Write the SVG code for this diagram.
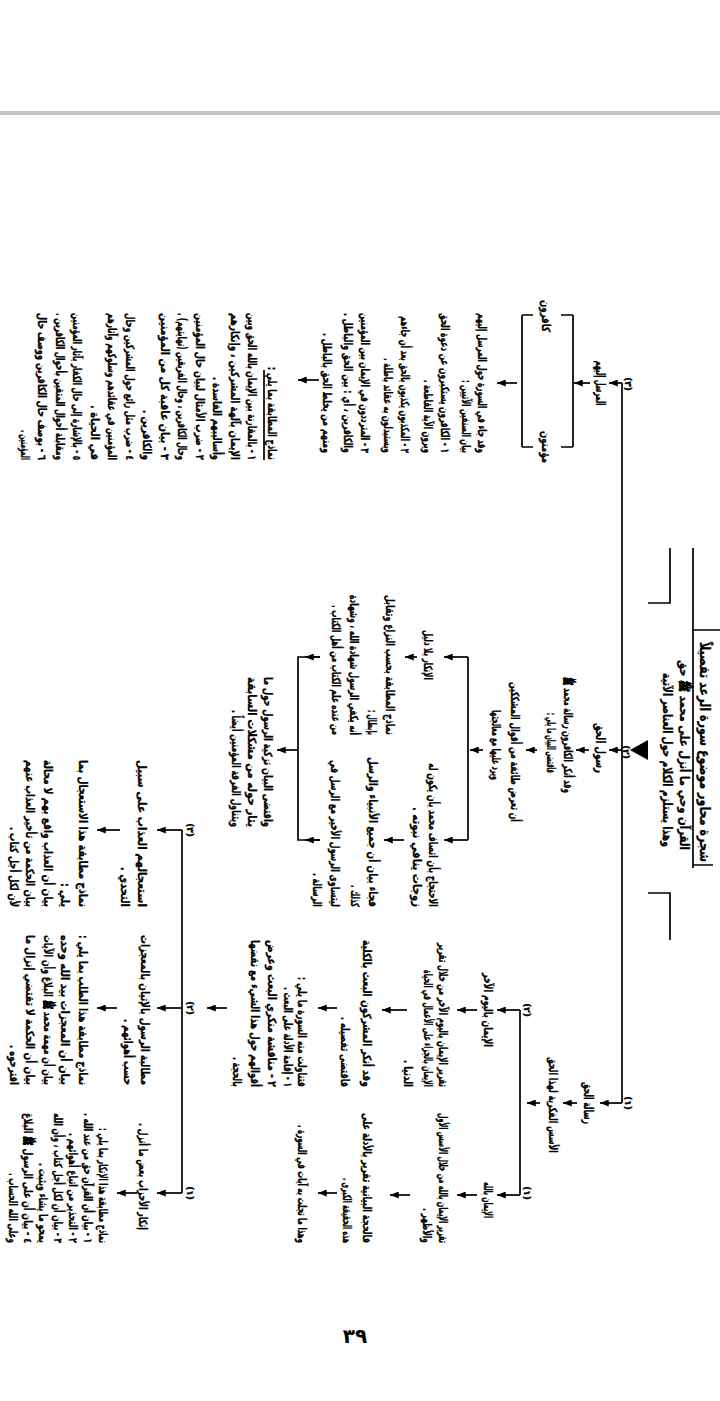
<svg xmlns="http://www.w3.org/2000/svg" width="720" height="1401" viewBox="0 0 720 1401">
<defs>
<style>
.t{font-family:"DejaVu Sans","Noto Sans",sans-serif;font-weight:bold;font-size:11.5px;fill:#000;stroke:#000;stroke-width:0.3;direction:rtl}
.r{text-anchor:start}
.c{text-anchor:middle}
.m{font-size:9px}
.h1{font-size:14px}
.h2{font-size:12.5px}
.ln{stroke:#000;stroke-width:1.7;fill:none}
.a{stroke:#000;stroke-width:1.7;fill:none;marker-end:url(#ah)}
</style>
<marker id="ah" viewBox="0 0 10 8" refX="10" refY="4" markerWidth="9" markerHeight="7" orient="auto" markerUnits="userSpaceOnUse"><path d="M0,0L10,4L0,8z" fill="#000"/></marker>
</defs>
<rect width="720" height="1401" fill="#fff"/>
<rect x="0" y="111" width="720" height="4" fill="#c4c4c4"/>
<g transform="matrix(0 1 -1 0 720 0)">
<g id="title">
<path class="ln" d="M548,27H868M630,0V27M865,7V27M548,50H603V72M893,72V50H940"/>
<polygon points="740,72 760,72 750,90" fill="#000"/>
<text class="t c h1" x="752" y="20" textLength="220" lengthAdjust="spacingAndGlyphs">شجرة محاور موضوع سورة الرعد تفصيلاً</text>
<text class="t c h2" x="755" y="40" textLength="190" lengthAdjust="spacingAndGlyphs">القرآن وحي ما أنزل على محمد ﷺ حق</text>
<text class="t c h2" x="760" y="57" textLength="174" lengthAdjust="spacingAndGlyphs">وهذا يستلزم الكلام حول العناصر الآتية</text>
</g>
<g id="connectors">
<path class="ln" d="M383,98H1103"/>
<path class="a" d="M383,98V111"/>
<path class="a" d="M750,98V111"/>
<path class="a" d="M1103,98V120"/>
<path class="a" d="M383,130V146"/>
<path class="ln" d="M315,147H447M315,198H447M315,147V159M315,187V198M447,147V159M447,187V198"/>
<path class="a" d="M383,203V223"/>
<path class="a" d="M380,401V422"/>
<path class="ln" d="M370,456H460"/>
<path class="a" d="M750,131V144"/>
<path class="a" d="M750,183V194"/>
<path class="a" d="M750,237V250"/>
<path class="ln" d="M657,252H840"/>
<path class="a" d="M657,252V276"/>
<path class="a" d="M840,252V276"/>
<path class="a" d="M657,303V315"/>
<path class="a" d="M840,316V336"/>
<path class="ln" d="M657,400V422H840V400"/>
<path class="a" d="M657,400V415"/>
<path class="a" d="M840,400V415"/>
<path class="a" d="M750,422V443"/>
<path class="a" d="M1103,143V157"/>
<path class="a" d="M1103,180V193"/>
<path class="ln" d="M1010,200H1195"/>
<path class="a" d="M1010,200V223"/>
<path class="a" d="M1195,200V223"/>
<path class="a" d="M1010,243V263"/>
<path class="a" d="M1195,243V263"/>
<path class="a" d="M1010,313V338"/>
<path class="a" d="M1195,310V330"/>
<path class="a" d="M1008,383V402"/>
<path class="a" d="M1193,383V402"/>
<path class="a" d="M1008,493V513"/>
<path class="ln" d="M830,538H1193"/>
<path class="a" d="M830,538V563"/>
<path class="a" d="M1008,538V563"/>
<path class="a" d="M1193,538V563"/>
<path class="a" d="M830,600V623"/>
<path class="a" d="M1008,603V623"/>
<path class="a" d="M1193,583V603"/>
</g>
<g id="markers">
<text class="t c m" x="384" y="95">(٣)</text>
<text class="t c m" x="752" y="97">(٢)</text>
<text class="t c m" x="1103" y="95">(١)</text>
<text class="t c m" x="1010" y="196">(٢)</text>
<text class="t c m" x="1193" y="196">(١)</text>
<text class="t c m" x="830" y="533">(٣)</text>
<text class="t c m" x="1008" y="533">(٢)</text>
<text class="t c m" x="1193" y="533">(١)</text>
</g>
<g id="n3">
<text class="t c h2" x="383" y="124" textLength="45" lengthAdjust="spacingAndGlyphs">المرسل إليهم</text>
</g>
<g id="n3-groups">
<text class="t c" x="316" y="178" textLength="32" lengthAdjust="spacingAndGlyphs">كافرون</text>
<text class="t c" x="447" y="178" textLength="32" lengthAdjust="spacingAndGlyphs">مؤمنون</text>
</g>
<g id="n3-a">
<text class="t r" x="453" y="242" textLength="140" lengthAdjust="spacingAndGlyphs">وقد جاء في السورة حول المرسل إليهم</text>
<text class="t r" x="453" y="258" textLength="73" lengthAdjust="spacingAndGlyphs">بيان الصنفين الآتيين :</text>
<text class="t r" x="453" y="279" textLength="140" lengthAdjust="spacingAndGlyphs">١ - الكافرون يستكبرون عن دعوة الحق</text>
<text class="t r" x="453" y="296" textLength="73" lengthAdjust="spacingAndGlyphs">ويرون الآية القاطعة .</text>
<text class="t r" x="453" y="319" textLength="137" lengthAdjust="spacingAndGlyphs">٢ - المكذبون يكذبون بالحق بعد أن جاءهم</text>
<text class="t r" x="453" y="336" textLength="95" lengthAdjust="spacingAndGlyphs">ويستبدلون به عقائد باطلة .</text>
<text class="t r" x="453" y="359" textLength="140" lengthAdjust="spacingAndGlyphs">٣ - المترددون في الإيمان بين المؤمنين</text>
<text class="t r" x="453" y="376" textLength="140" lengthAdjust="spacingAndGlyphs">والكافرين ، أي : بين الحق والباطل .</text>
<text class="t r" x="453" y="397" textLength="120" lengthAdjust="spacingAndGlyphs">ومنهم من يخلط الحق بالباطل .</text>
</g>
<g id="n3-b">
<text class="t r" x="460" y="452" textLength="93" lengthAdjust="spacingAndGlyphs">نماذج المطابقة بما يلي :</text>
<text class="t r" x="460" y="472" textLength="147" lengthAdjust="spacingAndGlyphs">١ - بالمقارنة بين الإيمان بالله الحق وبين</text>
<text class="t r" x="460" y="489" textLength="147" lengthAdjust="spacingAndGlyphs">الإيمان بآلهة المشركين ، وإنكارهم</text>
<text class="t r" x="460" y="507" textLength="83" lengthAdjust="spacingAndGlyphs">وأساليبهم الفاسدة .</text>
<text class="t r" x="460" y="524" textLength="147" lengthAdjust="spacingAndGlyphs">٢ - ضرب الأمثال لبيان حال المؤمنين</text>
<text class="t r" x="460" y="542" textLength="147" lengthAdjust="spacingAndGlyphs">وحال الكافرين ، وحال الفريقين (نهايتهم) .</text>
<text class="t r" x="460" y="559" textLength="147" lengthAdjust="spacingAndGlyphs">٣ - بيان عاقبة كل من المؤمنين</text>
<text class="t r" x="460" y="577" textLength="50" lengthAdjust="spacingAndGlyphs">والكافرين .</text>
<text class="t r" x="460" y="594" textLength="147" lengthAdjust="spacingAndGlyphs">٤ - ضرب مثل رائع حول المشركين وحال</text>
<text class="t r" x="460" y="612" textLength="147" lengthAdjust="spacingAndGlyphs">المؤمنين في عقائدهم وسلوكهم وآثارهم</text>
<text class="t r" x="460" y="629" textLength="55" lengthAdjust="spacingAndGlyphs">في الحياة .</text>
<text class="t r" x="460" y="647" textLength="147" lengthAdjust="spacingAndGlyphs">٥ - بالإشارة إلى حال الكفار بآثار المؤمنين</text>
<text class="t r" x="460" y="664" textLength="147" lengthAdjust="spacingAndGlyphs">ومقابلة أحوال المتقين بأحوال الكافرين .</text>
<text class="t r" x="460" y="682" textLength="147" lengthAdjust="spacingAndGlyphs">٦ - بوصف حال الكافرين ووصف حال</text>
<text class="t r" x="460" y="699" textLength="30" lengthAdjust="spacingAndGlyphs">المؤمنين .</text>
</g>
<g id="n2">
<text class="t c h2" x="748" y="124" textLength="50" lengthAdjust="spacingAndGlyphs">رسول الحق</text>
</g>
<g id="n2-a">
<text class="t c" x="735" y="156" textLength="116" lengthAdjust="spacingAndGlyphs">وقد أنكر الكافرون رسالة محمد ﷺ</text>
<text class="t c" x="743" y="173" textLength="60" lengthAdjust="spacingAndGlyphs">فاقتضى البيان ما يلي :</text>
</g>
<g id="n2-b">
<text class="t c" x="752" y="209" textLength="140" lengthAdjust="spacingAndGlyphs">أن تعرض طائفة من أقوال المشككين</text>
<text class="t c" x="745" y="228" textLength="70" lengthAdjust="spacingAndGlyphs">ويرد عليها مع معالجتها</text>
</g>
<g id="n2-c">
<text class="t c" x="655" y="296" textLength="50" lengthAdjust="spacingAndGlyphs">الإنكار بلا دليل</text>
</g>
<g id="n2-c1">
<text class="t r" x="735" y="334" textLength="140" lengthAdjust="spacingAndGlyphs">نماذج المطابقة بحسب النزاع وتقابل</text>
<text class="t r" x="735" y="352" textLength="25" lengthAdjust="spacingAndGlyphs">بإبطال :</text>
<text class="t r" x="735" y="370" textLength="140" lengthAdjust="spacingAndGlyphs">أنه يكفي الرسول شهادة الله ، وشهادة</text>
<text class="t r" x="735" y="388" textLength="130" lengthAdjust="spacingAndGlyphs">من عنده علم الكتاب من أهل الكتاب .</text>
</g>
<g id="n2-d">
<text class="t r" x="907" y="291" textLength="144" lengthAdjust="spacingAndGlyphs">الاحتجاج بأن اتصاف محمد بأن يكون له</text>
<text class="t r" x="907" y="307" textLength="100" lengthAdjust="spacingAndGlyphs">زوجات ينافي نبوته .</text>
</g>
<g id="n2-d1">
<text class="t r" x="907" y="351" textLength="150" lengthAdjust="spacingAndGlyphs">فجاء بيان أن جميع الأنبياء والرسل</text>
<text class="t r" x="907" y="369" textLength="22" lengthAdjust="spacingAndGlyphs">كذلك .</text>
<text class="t r" x="907" y="389" textLength="147" lengthAdjust="spacingAndGlyphs">ليتساوى الرسول الأخير مع الرسل في</text>
<text class="t r" x="907" y="407" textLength="34" lengthAdjust="spacingAndGlyphs">الرسالة .</text>
</g>
<g id="n2-e">
<text class="t r" x="827" y="456" textLength="150" lengthAdjust="spacingAndGlyphs">واقتضى البيان تزكية الرسول حول ما</text>
<text class="t r" x="827" y="472" textLength="150" lengthAdjust="spacingAndGlyphs">يثار حوله من مشكلات السابقة</text>
<text class="t r" x="827" y="488" textLength="117" lengthAdjust="spacingAndGlyphs">ويتناول الفرقة المؤمنين أيضاً .</text>
</g>
<g id="n1">
<text class="t c h2" x="1103" y="136" textLength="42" lengthAdjust="spacingAndGlyphs">رسالة الحق</text>
</g>
<g id="n1-a">
<text class="t c" x="1105" y="171" textLength="96" lengthAdjust="spacingAndGlyphs">الأسس الفكرية لهذا الحق</text>
</g>
<g id="n1-2">
<text class="t c" x="1010" y="236" textLength="74" lengthAdjust="spacingAndGlyphs">الإيمان باليوم الآخر</text>
</g>
<g id="n1-2a">
<text class="t r" x="1087" y="281" textLength="144" lengthAdjust="spacingAndGlyphs">تقرير الإيمان باليوم الآخر من خلال تقرير</text>
<text class="t r" x="1087" y="296" textLength="117" lengthAdjust="spacingAndGlyphs">الإيمان بالجزاء على الأعمال في الحياة</text>
<text class="t r" x="1087" y="316" textLength="27" lengthAdjust="spacingAndGlyphs">الدنيا .</text>
</g>
<g id="n1-2b">
<text class="t r" x="1087" y="357" textLength="147" lengthAdjust="spacingAndGlyphs">وقد أنكر المشركون البعث بالكلية</text>
<text class="t r" x="1087" y="379" textLength="70" lengthAdjust="spacingAndGlyphs">فاقتضى تفصيله .</text>
</g>
<g id="n1-2c">
<text class="t r" x="1087" y="422" textLength="110" lengthAdjust="spacingAndGlyphs">فتناولت منه السورة ما يلي :</text>
<text class="t r" x="1087" y="436" textLength="100" lengthAdjust="spacingAndGlyphs">١ - إقامة الأدلة على البعث .</text>
<text class="t r" x="1087" y="452" textLength="147" lengthAdjust="spacingAndGlyphs">٢ - مناقشة منكري البعث وعرض</text>
<text class="t r" x="1087" y="469" textLength="147" lengthAdjust="spacingAndGlyphs">أقوالهم حول هذا الشيء مع نقضها</text>
<text class="t r" x="1087" y="487" textLength="30" lengthAdjust="spacingAndGlyphs">بالحجة .</text>
</g>
<g id="n1-1">
<text class="t c" x="1200" y="236" textLength="36" lengthAdjust="spacingAndGlyphs">الإيمان بالله</text>
</g>
<g id="n1-1a">
<text class="t r" x="1243" y="281" textLength="130" lengthAdjust="spacingAndGlyphs">تقرير الإيمان بالله من خلال الأسس الأول</text>
<text class="t r" x="1243" y="297" textLength="35" lengthAdjust="spacingAndGlyphs">والأظهر .</text>
</g>
<g id="n1-1b">
<text class="t r" x="1243" y="357" textLength="130" lengthAdjust="spacingAndGlyphs">فالحجة البيانية تقرير بالأدلة على</text>
<text class="t r" x="1243" y="377" textLength="65" lengthAdjust="spacingAndGlyphs">هذه الحقيقة الكبرى .</text>
</g>
<g id="n1-1c">
<text class="t r" x="1243" y="422" textLength="118" lengthAdjust="spacingAndGlyphs">وهذا ما تجلت به آيات في السورة .</text>
</g>
<g id="g3">
<text class="t r" x="907" y="582" textLength="147" lengthAdjust="spacingAndGlyphs">استعجالهم العذاب على سبيل</text>
<text class="t r" x="907" y="599" textLength="40" lengthAdjust="spacingAndGlyphs">التحدي .</text>
</g>
<g id="g3b">
<text class="t r" x="907" y="641" textLength="147" lengthAdjust="spacingAndGlyphs">نماذج مطابقة هذا الاستعجال بما</text>
<text class="t r" x="907" y="659" textLength="24" lengthAdjust="spacingAndGlyphs">يلي :</text>
<text class="t r" x="907" y="676" textLength="147" lengthAdjust="spacingAndGlyphs">بيان أن العذاب واقع بهم لا محالة</text>
<text class="t r" x="907" y="694" textLength="147" lengthAdjust="spacingAndGlyphs">بيان الحكمة من تأخير العذاب عنهم</text>
<text class="t r" x="907" y="710" textLength="80" lengthAdjust="spacingAndGlyphs">لأن لكل أجل كتاب .</text>
</g>
<g id="g2">
<text class="t r" x="1085" y="579" textLength="150" lengthAdjust="spacingAndGlyphs">مطالبة الرسول بالإتيان بالمعجزات</text>
<text class="t r" x="1085" y="596" textLength="66" lengthAdjust="spacingAndGlyphs">حسب أهوائهم .</text>
</g>
<g id="g2b">
<text class="t r" x="1085" y="641" textLength="150" lengthAdjust="spacingAndGlyphs">نماذج مطابقة هذا الطلب بما يلي :</text>
<text class="t r" x="1085" y="659" textLength="150" lengthAdjust="spacingAndGlyphs">بيان أن المعجزات بيد الله وحده</text>
<text class="t r" x="1085" y="676" textLength="150" lengthAdjust="spacingAndGlyphs">بيان أن مهمة محمد ﷺ البلاغ وأن الآيات</text>
<text class="t r" x="1085" y="694" textLength="150" lengthAdjust="spacingAndGlyphs">بيان أن الحكمة لا تقتضي إنزال ما</text>
<text class="t r" x="1085" y="710" textLength="40" lengthAdjust="spacingAndGlyphs">اقترحوه .</text>
</g>
<g id="g1">
<text class="t r" x="1230" y="581" textLength="107" lengthAdjust="spacingAndGlyphs">إنكار الأحزاب بعض ما أنزل .</text>
</g>
<g id="g1b">
<text class="t r" x="1243" y="621" textLength="115" lengthAdjust="spacingAndGlyphs">نماذج مطابقة هذا الإنكار بما يلي :</text>
<text class="t r" x="1243" y="636" textLength="130" lengthAdjust="spacingAndGlyphs">١ - بيان أن القرآن حق من عند الله .</text>
<text class="t r" x="1243" y="651" textLength="110" lengthAdjust="spacingAndGlyphs">٢ - التحذير من اتباع أهوائهم .</text>
<text class="t r" x="1243" y="666" textLength="130" lengthAdjust="spacingAndGlyphs">٣ - بيان أن لكل أجل كتاب ، وأن الله</text>
<text class="t r" x="1243" y="681" textLength="80" lengthAdjust="spacingAndGlyphs">يمحو ما يشاء ويثبت .</text>
<text class="t r" x="1243" y="696" textLength="130" lengthAdjust="spacingAndGlyphs">٤ - بيان أن على الرسول ﷺ البلاغ</text>
<text class="t r" x="1243" y="711" textLength="70" lengthAdjust="spacingAndGlyphs">وعلى الله الحساب .</text>
</g>
</g>
<text id="page-number" x="355" y="1343" text-anchor="middle" style="font-family:'DejaVu Sans',sans-serif;font-weight:bold;font-size:20px;fill:#000">٣٩</text>
</svg>
